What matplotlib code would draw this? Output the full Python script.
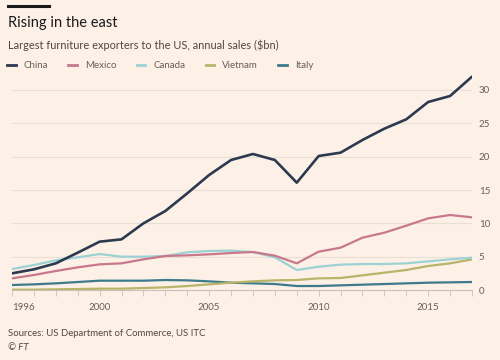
import numpy as np
import matplotlib.pyplot as plt
from matplotlib.lines import Line2D

years = list(range(1996, 2018))
china = [2.5, 3.1, 4.0, 5.6, 7.25, 7.6, 10.0, 11.85, 14.5, 17.25, 19.5, 20.4,
         19.5, 16.1, 20.1, 20.6, 22.5, 24.2, 25.6, 28.2, 29.1, 32.0]
mexico = [1.75, 2.25, 2.85, 3.4, 3.85, 4.0, 4.6, 5.1, 5.2, 5.35, 5.55, 5.7,
          5.15, 4.0, 5.75, 6.35, 7.85, 8.6, 9.65, 10.75, 11.25, 10.9]
canada = [3.15, 3.75, 4.45, 4.9, 5.4, 5.0, 5.0, 5.1, 5.65, 5.85, 5.9, 5.7,
          4.9, 3.0, 3.5, 3.8, 3.9, 3.9, 4.0, 4.3, 4.6, 4.85]
vietnam = [0.05, 0.05, 0.1, 0.15, 0.2, 0.2, 0.3, 0.4, 0.6, 0.85, 1.1, 1.3,
           1.45, 1.5, 1.75, 1.8, 2.2, 2.6, 3.0, 3.6, 4.0, 4.6]
italy = [0.75, 0.85, 1.0, 1.2, 1.4, 1.4, 1.4, 1.5, 1.45, 1.3, 1.1, 1.0,
         0.9, 0.6, 0.6, 0.7, 0.8, 0.9, 1.0, 1.1, 1.15, 1.2]

series = [('China', china, '#2c3a50'),
          ('Mexico', mexico, '#c8788c'),
          ('Canada', canada, '#9dd2d5'),
          ('Vietnam', vietnam, '#b8b56a'),
          ('Italy', italy, '#3d7a8c')]

xtick_years = [1996, 2000, 2005, 2010, 2015]
ytick_vals = [0, 5, 10, 15, 20, 25, 30]

bg = '#fdf0e6'
txt_grey = '#66605c'
plt.rcParams['font.family'] = ['Lato', 'DejaVu Sans']

fig = plt.figure(figsize=(5, 3.6), dpi=100, facecolor=bg)
ax = fig.add_axes([0.024, 0.1944, 0.92, 0.6112])
ax.set_facecolor(bg)

# lower lines first so China sits on top
for name, vals, col in reversed(series):
    lw = 1.9 if name == 'China' else 1.6
    ax.plot(years, vals, color=col, lw=lw, solid_capstyle='round', zorder=3)

ax.set_xlim(1996, 2017)
ax.set_ylim(0, 33)

ax.set_yticks(ytick_vals)
ax.yaxis.tick_right()
ax.tick_params(axis='y', length=0, pad=5, labelsize=7, labelcolor=txt_grey)
ax.grid(axis='y', color='#eadfd5', lw=0.8, zorder=0)

ax.set_xticks(xtick_years)
ax.set_xticks(years, minor=True)
ax.tick_params(axis='x', which='both', length=4, width=0.6, color='#c9c0b8',
               labelsize=7, labelcolor=txt_grey, pad=5)
labels = ax.get_xticklabels()
labels[0].set_horizontalalignment('left')

for s in ['top', 'left', 'right']:
    ax.spines[s].set_visible(False)
ax.spines['bottom'].set_color('#c9c0b8')
ax.spines['bottom'].set_linewidth(0.8)

# header
fig.add_artist(Line2D([8 / 500, 49 / 500], [1 - 6 / 360, 1 - 6 / 360],
                      color='#1a1a1a', lw=2.2))
fig.text(8 / 500, 1 - 23 / 360, 'Rising in the east', fontsize=10.5,
         color='#1a1a1a', va='center', ha='left')
fig.text(8 / 500, 1 - 45 / 360,
         'Largest furniture exporters to the US, annual sales ($bn)',
         fontsize=7.9, color='#4d4845', va='center', ha='left')

handles = [Line2D([], [], color=c, lw=2) for _, _, c in series]
fig.legend(handles, [n for n, _, _ in series], loc='center left',
           bbox_to_anchor=(-2 / 500, 1 - 66 / 360), ncol=5, frameon=False,
           fontsize=7, handlelength=0.9, handletextpad=0.8,
           columnspacing=2.1, labelcolor=txt_grey)

fig.text(8 / 500, 1 - 333 / 360, 'Sources: US Department of Commerce, US ITC',
         fontsize=6.9, color='#4d4845', va='center', ha='left')
fig.text(8 / 500, 1 - 347 / 360, '© FT', fontsize=6.9, style='italic',
         color='#4d4845', va='center', ha='left')

fig.savefig('out.png', dpi=100, facecolor=bg)
